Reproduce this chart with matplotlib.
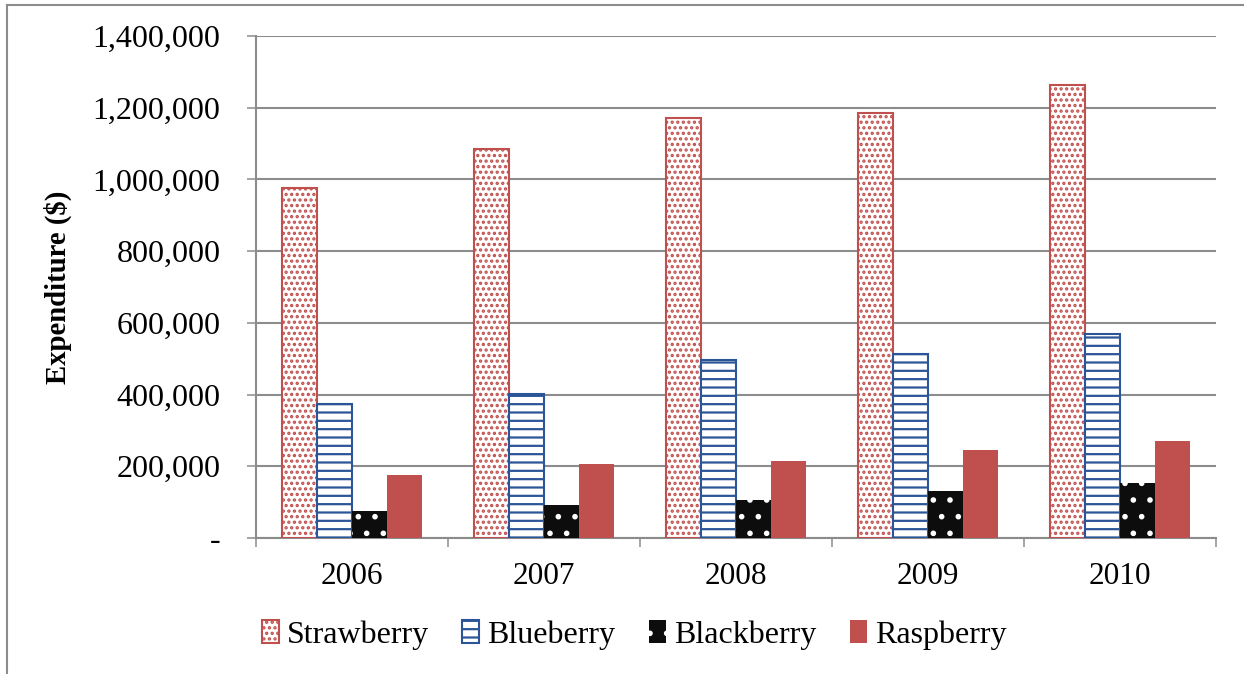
import numpy as np
import matplotlib.pyplot as plt
from matplotlib.lines import Line2D
from matplotlib.ticker import FuncFormatter, FixedLocator

plt.rcParams['font.family'] = ['Liberation Serif', 'DejaVu Serif']
plt.rcParams['hatch.linewidth'] = 1.6

# Annual expenditure by berry type
years = ['2006', '2007', '2008', '2009', '2010']
strawberry = [976000, 1085000, 1171000, 1185000, 1263000]
blueberry = [374000, 402000, 496000, 513000, 569000]
blackberry = [75000, 92000, 106000, 131000, 153000]
raspberry = [176000, 206000, 215000, 245000, 270000]

red = '#C0504D'
blue = '#2C5597'

fig = plt.figure(figsize=(12.44, 6.74), dpi=100)
ax = fig.add_axes([256 / 1244, 1 - 538 / 674, 960 / 1244, 502 / 674])

x = np.arange(len(years))
w = 0.183
offs = np.array([-1.5, -0.5, 0.5, 1.5]) * w

ax.bar(x + offs[0], strawberry, w, color='white', edgecolor=red, hatch='...',
       linewidth=1.5, label='Strawberry', zorder=3)
ax.bar(x + offs[1], blueberry, w, color='white', edgecolor=blue, hatch='--',
       linewidth=1.5, label='Blueberry', zorder=3)
ax.bar(x + offs[2], blackberry, w, color='#0D0D0D', edgecolor='white', hatch='.',
       linewidth=0, label='Blackberry', zorder=3)
ax.bar(x + offs[3], raspberry, w, color=red, edgecolor=red, linewidth=0,
       label='Raspberry', zorder=3)

ax.set_xlim(-0.5, len(years) - 0.5)
ax.set_ylim(0, 1400000)
ax.set_yticks(np.arange(0, 1400001, 200000))
ax.yaxis.set_major_formatter(FuncFormatter(lambda v, p: '-' if v == 0 else f'{int(v):,}'))
ax.set_xticks(x)
ax.set_xticklabels(years)
ax.xaxis.set_minor_locator(FixedLocator(np.arange(-0.5, len(years), 1.0)))

grid_c = '#8C8C8C'
ax.grid(axis='y', color=grid_c, linewidth=1.5, zorder=0)
ax.set_axisbelow(True)
for s in ['top', 'right']:
    ax.spines[s].set_visible(False)
for s in ['left', 'bottom']:
    ax.spines[s].set_color(grid_c)
    ax.spines[s].set_linewidth(1.5)

ax.tick_params(axis='y', length=6.5, width=1.1, color=grid_c, pad=19, labelsize=23)
ax.tick_params(axis='x', which='major', length=0, pad=17, labelsize=22.5)
ax.tick_params(axis='x', which='minor', length=6.5, width=1.1, color=grid_c)

ax.set_ylabel('Expenditure ($)', fontsize=20.7, fontweight='bold', labelpad=15)

fig.legend(loc='center', bbox_to_anchor=(634 / 1244, 1 - 635 / 674), ncol=4,
           frameon=False, fontsize=23, handlelength=0.53, handleheight=0.72,
           handletextpad=0.25, columnspacing=1.05)

# chart frame on the left and top edges
fig.add_artist(Line2D([7 / 1244, 7 / 1244], [0, 1 - 5 / 674], color=grid_c, linewidth=1.5))
fig.add_artist(Line2D([7 / 1244, 1], [1 - 5 / 674, 1 - 5 / 674], color=grid_c, linewidth=1.5))

fig.savefig('out.png', dpi=100)
